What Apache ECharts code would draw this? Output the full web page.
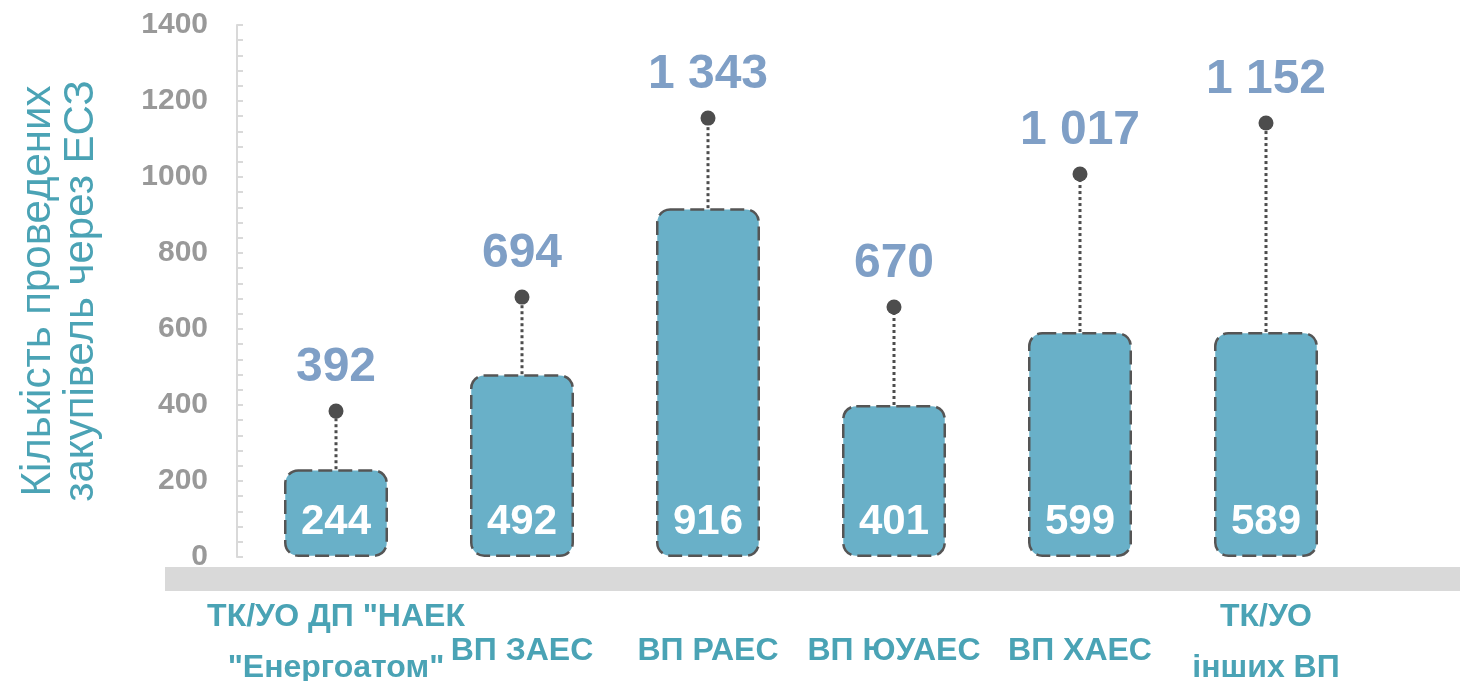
<!DOCTYPE html>
<html lang="uk">
<head>
    <meta charset="UTF-8">
    <title>Кількість проведених закупівель через ЕСЗ</title>
    <script src="https://cdn.jsdelivr.net/npm/echarts@6/dist/echarts.min.js"></script>
    <style>
        html, body { margin: 0; padding: 0; background: #fff; }
        #chart { width: 1460px; height: 681px; }
    </style>
</head>
<body>
    <div id="chart"></div>
    <script>
        // категорії
        var categories = ['ТК/УО ДП "НАЕК\n"Енергоатом"', 'ВП ЗАЕС', 'ВП РАЕС', 'ВП ЮУАЕС', 'ВП ХАЕС', 'ТК/УО\nінших ВП'];
        // підписи на стовпцях і їх висота як на малюнку
        var barLabels = [244, 492, 916, 401, 599, 589];
        var barHeights = [231, 481, 918, 400, 592, 592];
        // загальна кількість (підписи над точками) і положення точок
        var totals = [392, 694, 1343, 670, 1017, 1152];
        var dotValues = [384, 684, 1155, 658, 1008, 1142];

        var font = 'Liberation Sans, Arial, sans-serif';

        function fmt(v) {
            return String(v).replace(/\B(?=(\d{3})+(?!\d))/g, ' ');
        }

        var chart = echarts.init(document.getElementById('chart'));

        var catStyle = {
            color: '#4aa3b5',
            fontWeight: 'bold',
            fontSize: 32,
            lineHeight: 51,
            fontFamily: font
        };

        var option = {
            animation: false,
            textStyle: { fontFamily: font },
            grid: { left: 243, right: 101, top: 25, bottom: 124, outerBoundsMode: 'none' },
            graphic: [{
                type: 'rect',
                left: 165,
                top: 567,
                shape: { width: 1295, height: 24 },
                style: { fill: '#d9d9d9' },
                z: 0
            }],
            xAxis: {
                type: 'category',
                data: categories,
                axisLine: { show: false },
                axisTick: { show: false },
                axisLabel: {
                    interval: 0,
                    margin: 86,
                    verticalAlign: 'middle',
                    color: '#4aa3b5',
                    fontWeight: 'bold',
                    fontSize: 32,
                    lineHeight: 51,
                    fontFamily: font,
                    formatter: function (v) {
                        // однорядкові підписи в оригіналі трохи нижче
                        return v.indexOf('\n') < 0 ? '{one|' + v + '}' : '{two|' + v.split('\n').join('}\n{two|') + '}';
                    },
                    rich: {
                        one: Object.assign({ padding: [16, 0, 0, 0] }, catStyle),
                        two: catStyle
                    }
                }
            },
            yAxis: {
                type: 'value',
                min: 0,
                max: 1400,
                interval: 200,
                offset: 6,
                name: 'Кількість проведених\nзакупівель через ЕСЗ',
                nameLocation: 'middle',
                nameGap: 134,
                nameTextStyle: {
                    color: '#4ba3b5',
                    fontSize: 42,
                    lineHeight: 43,
                    fontFamily: font
                },
                axisLine: { show: true, lineStyle: { color: '#d9d9d9', width: 2 } },
                axisTick: { show: true, inside: true, length: 6, lineStyle: { color: '#d9d9d9', width: 2 } },
                minorTick: { show: true, splitNumber: 5, length: 6, lineStyle: { color: '#d9d9d9', width: 2 } },
                splitLine: { show: false },
                axisLabel: {
                    margin: 29,
                    color: '#999999',
                    fontWeight: 'bold',
                    fontSize: 30,
                    fontFamily: font,
                    formatter: function (v) { return String(v); }
                }
            },
            series: [
                {
                    type: 'custom',
                    z: 1,
                    renderItem: function (params, api) {
                        var p1 = api.coord([api.value(0), api.value(1)]);
                        var p2 = api.coord([api.value(0), api.value(2)]);
                        return {
                            type: 'line',
                            shape: { x1: p1[0], y1: p1[1], x2: p2[0], y2: p2[1] },
                            style: { stroke: '#4d4d4d', lineWidth: 3, lineDash: [3, 3] }
                        };
                    },
                    data: categories.map(function (c, i) { return [i, barHeights[i], dotValues[i]]; })
                },
                {
                    type: 'bar',
                    z: 2,
                    barWidth: 104,
                    data: barHeights,
                    itemStyle: {
                        color: '#69b0c8',
                        borderColor: '#555555',
                        borderWidth: 2.5,
                        borderType: [14, 6],
                        borderRadius: 13
                    },
                    label: {
                        show: true,
                        position: 'insideBottom',
                        distance: 14,
                        color: '#ffffff',
                        fontWeight: 'bold',
                        fontSize: 42,
                        fontFamily: font,
                        formatter: function (p) { return fmt(barLabels[p.dataIndex]); }
                    }
                },
                {
                    type: 'scatter',
                    z: 3,
                    symbol: 'circle',
                    symbolSize: 15,
                    data: dotValues,
                    itemStyle: { color: '#4d4d4d', opacity: 1 },
                    label: {
                        show: true,
                        position: 'top',
                        distance: 12,
                        color: '#7f9fc6',
                        fontWeight: 'bold',
                        fontSize: 48,
                        fontFamily: font,
                        formatter: function (p) { return fmt(totals[p.dataIndex]); }
                    }
                }
            ]
        };

        chart.setOption(option);
    </script>
</body>
</html>
